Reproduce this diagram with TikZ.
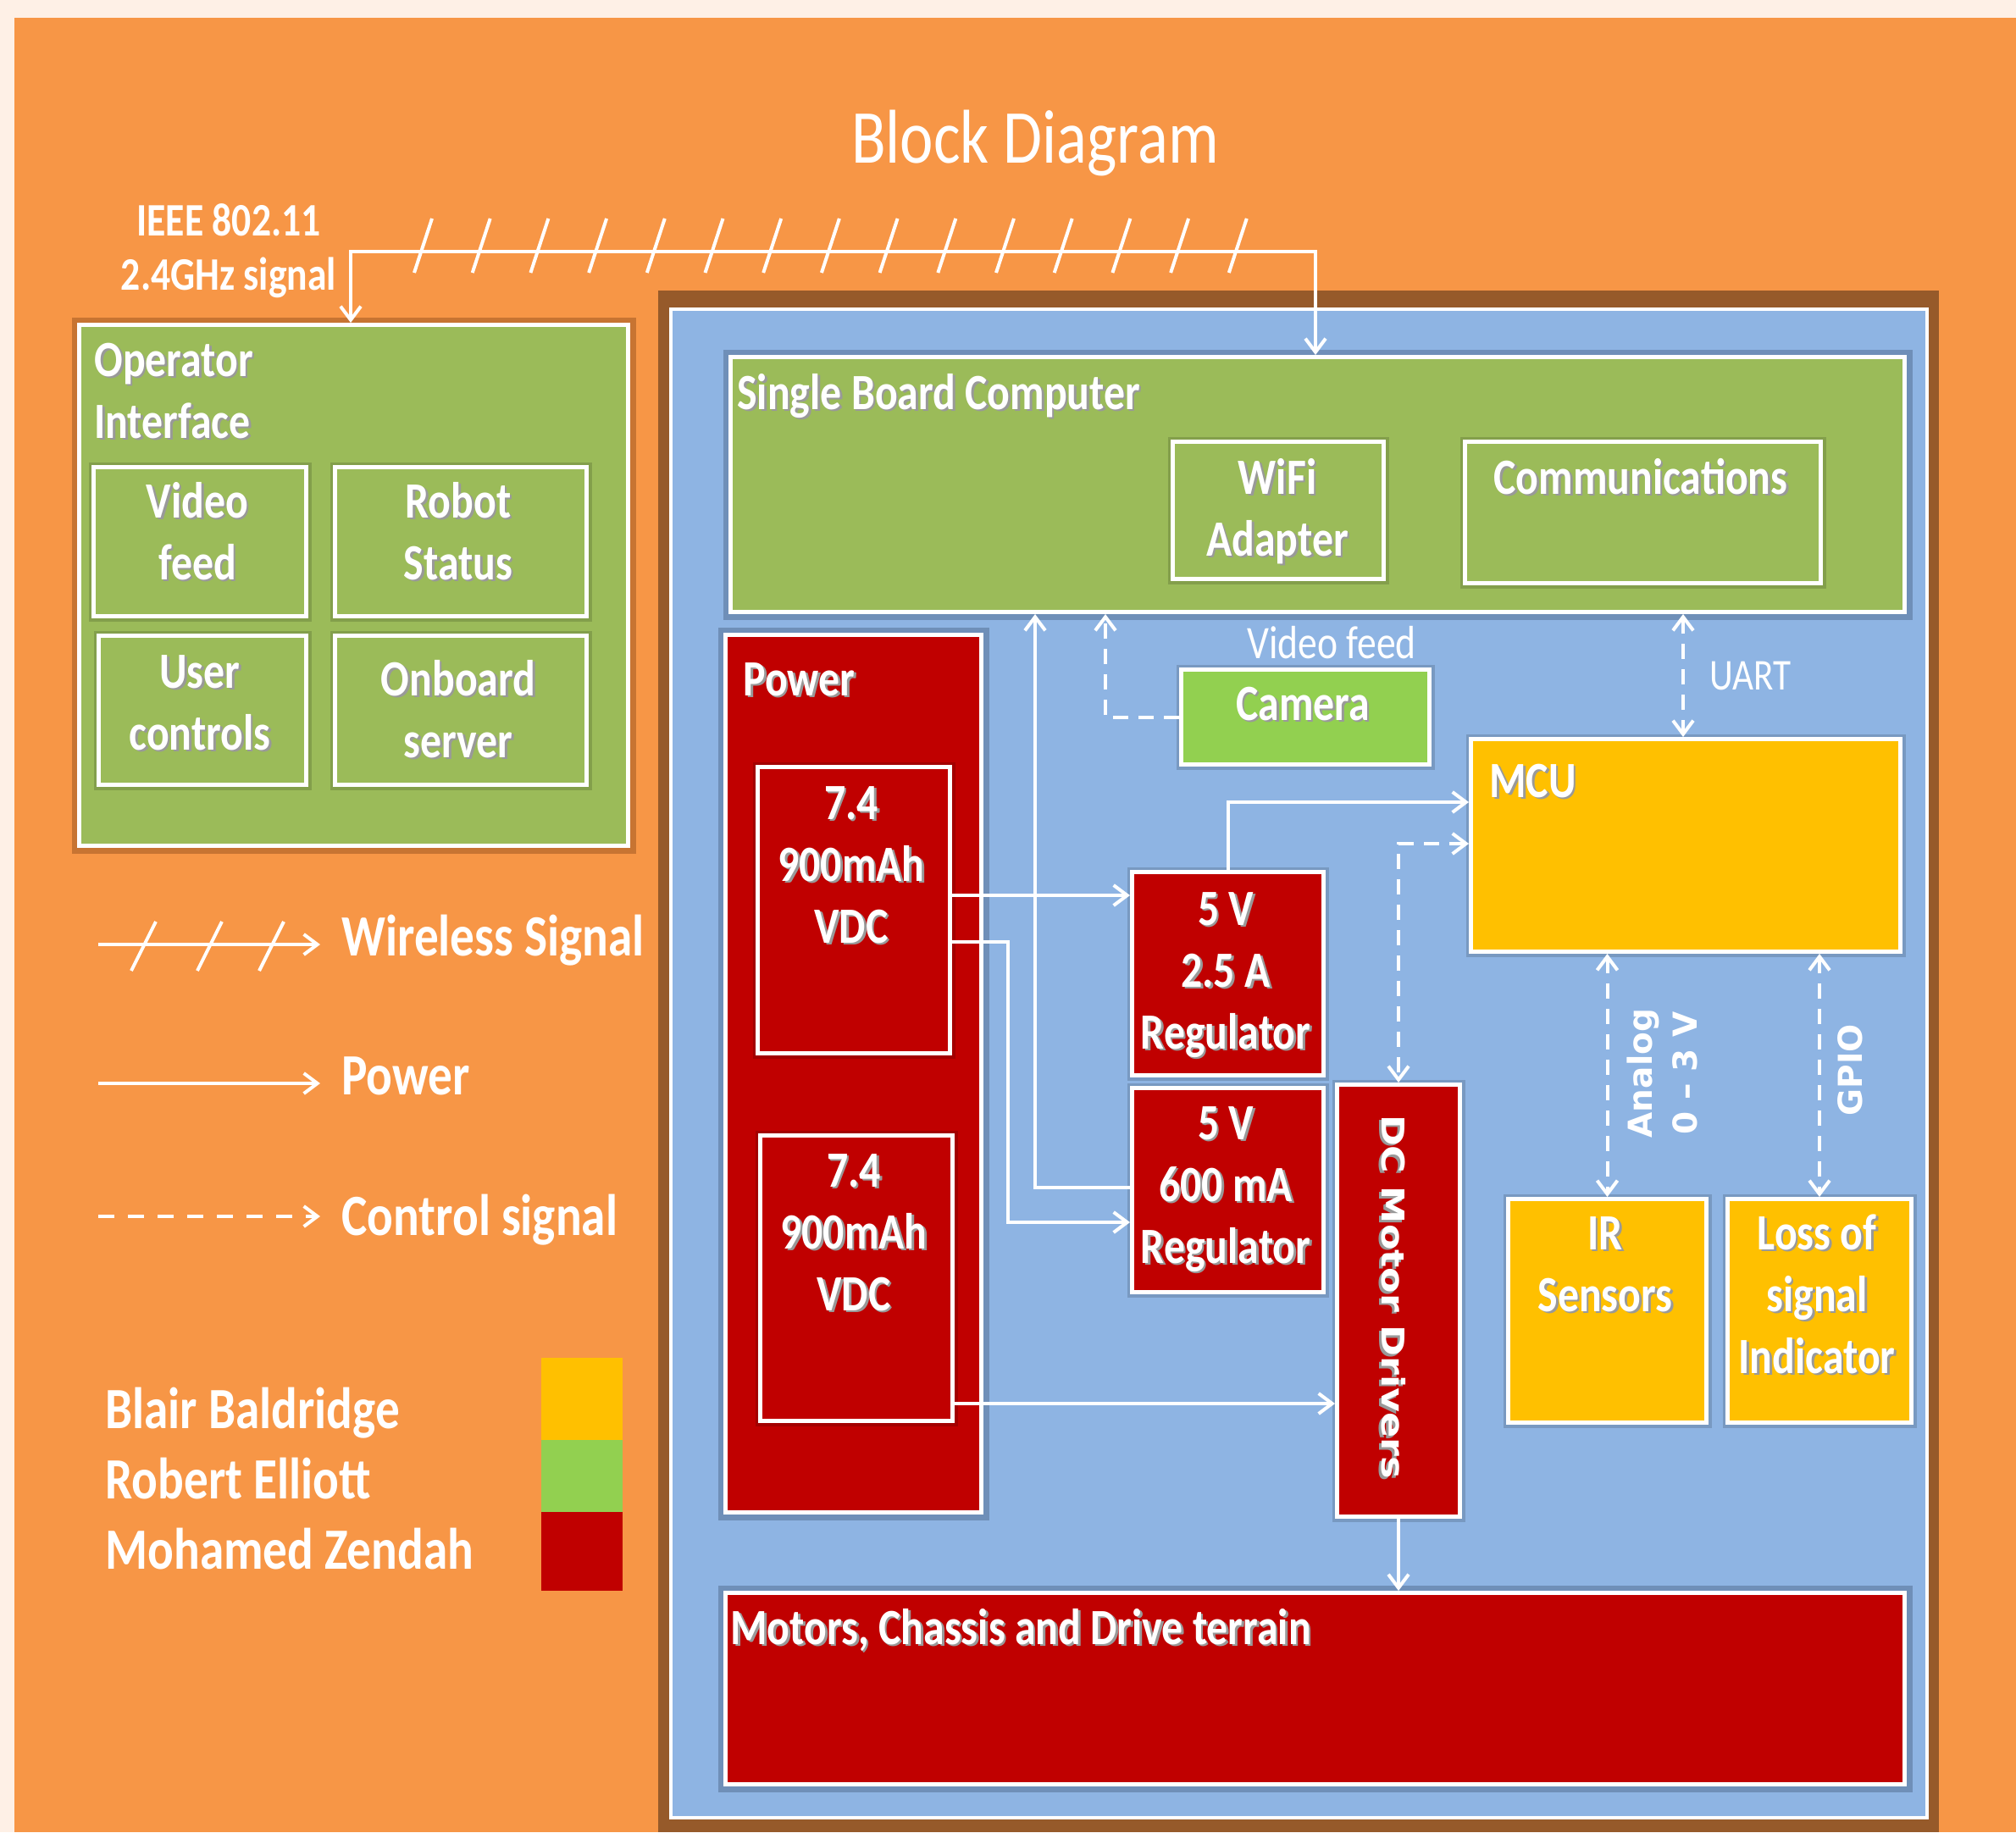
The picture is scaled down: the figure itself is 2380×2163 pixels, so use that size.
\documentclass[tikz,border=0pt]{standalone}
\usepackage{fontspec}
\usetikzlibrary{arrows.meta}
\setmainfont{Carlito}
\newfontfamily\calib{Carlito}[FakeStretch=0.83]
\newfontfamily\dvrot{DejaVu Sans}[FakeStretch=1.2]
\newfontfamily\dvs{DejaVu Sans}
\definecolor{bgorange}{HTML}{F79646}
\definecolor{cream}{HTML}{FEF0E6}
\definecolor{framebrown}{RGB}{150,90,42}
\definecolor{panelblue}{HTML}{8EB4E3}
\definecolor{olive}{HTML}{9BBB59}
\definecolor{camgreen}{HTML}{92D050}
\definecolor{dred}{HTML}{C00000}
\definecolor{amber}{HTML}{FFC000}
\definecolor{slate}{RGB}{55,75,105}
\definecolor{dbrown}{RGB}{110,55,15}
\newcommand\sh[1]{\makebox[0pt][l]{\raisebox{-1.3pt}{\hspace{1.3pt}\textcolor{black!40}{#1}}}#1}
\tikzset{
  box/.style={draw=white, line width=2.5pt, inner sep=0pt, anchor=north west},
  glow/.style={preaction={draw=#1, line width=9pt, draw opacity=.35}},
  softglow/.style={preaction={draw=black, line width=6pt, draw opacity=.15}},
  lbl/.style={text=white, inner sep=0pt, font=\calib\bfseries\fontsize{30}{36.5}\selectfont},
  pw/.style={draw=white, line width=2pt, -{Straight Barb[length=8pt,width=12pt]}},
  ctl/.style={pw, dash pattern=on 9pt off 6pt},
  both/.style={{Straight Barb[length=8pt,width=12pt]}-{Straight Barb[length=8pt,width=12pt]}},
  slash/.style={draw=white, line width=2pt},
  leg/.style={text=white, inner sep=0pt, font=\calib\bfseries\fontsize{34.5}{41.5}\selectfont},
  plain/.style={text=white, inner sep=0pt},
}
\begin{document}
\begin{tikzpicture}[x=0.5pt,y=-0.5pt]
\useasboundingbox (0,0) rectangle (2380,2163);
\fill[cream] (0,0) rectangle (2380,2163);
\fill[bgorange] (17,21) rectangle (2380,2163);
% robot frame
\fill[framebrown] (777,343) rectangle (2289,2163);
\filldraw[fill=panelblue, draw=white, line width=2pt] (792,365) rectangle (2275,2146);

% title and wireless label
\node[plain, anchor=base, font=\calib\fontsize{45}{54}\selectfont] (title) at (1222,192) {Block Diagram};
\node[plain, anchor=base, align=center, font=\calib\bfseries\fontsize{27.5}{32}\selectfont] (ieee) at (270,342) {IEEE 802.11\\2.4GHz signal};

% operator interface
\node[box, fill=olive, glow=dbrown, minimum width=324pt, minimum height=307.5pt] (opint) at (91,381) {};
\node[box, fill=olive, softglow, minimum width=125.5pt, minimum height=88pt] (video) at (108,549) {};
\node[box, fill=olive, softglow, minimum width=148.5pt, minimum height=88pt] (robot) at (393,549) {};
\node[box, fill=olive, softglow, minimum width=122.5pt, minimum height=88pt] (user) at (114,748) {};
\node[box, fill=olive, softglow, minimum width=148.5pt, minimum height=88pt] (onb) at (393,748) {};
\node[lbl, anchor=base west, align=left] (t-opint) at (111,517) {\sh{Operator}\\\sh{Interface}};
\node[lbl, anchor=base, align=center] (t-video) at (233,684) {\sh{Video}\\\sh{feed}};
\node[lbl, anchor=base, align=center] (t-robot) at (541,684) {\sh{Robot}\\\sh{Status}};
\node[lbl, anchor=base, align=center] (t-user) at (236,885) {\sh{User}\\\sh{controls}};
\node[lbl, anchor=base, align=center] (t-onb) at (541,894) {\sh{Onboard}\\\sh{server}};

% single board computer
\node[box, fill=olive, glow=slate, minimum width=693pt, minimum height=150.5pt] (sbc) at (860,419) {};
\node[box, fill=olive, softglow, minimum width=124.5pt, minimum height=81pt] (wifi) at (1382,519) {};
\node[box, fill=olive, softglow, minimum width=210pt, minimum height=83.5pt] (comm) at (1727,519) {};
\node[lbl, anchor=base west] (t-sbc) at (870,483) {\sh{Single Board Computer}};
\node[lbl, anchor=base, align=center] (t-wifi) at (1508,656) {\sh{WiFi}\\\sh{Adapter}};
\node[lbl, anchor=base] (t-comm) at (1937,583) {\sh{Communications}};

% power
\node[box, fill=dred, glow=slate, minimum width=151pt, minimum height=518pt] (power) at (854,747) {};
\node[box, fill=dred, softglow, minimum width=113.5pt, minimum height=169pt] (bat1) at (892,903) {};
\node[box, fill=dred, softglow, minimum width=113.5pt, minimum height=168.5pt] (bat2) at (895,1338) {};
\node[lbl, anchor=base west] (t-power) at (877,821) {\sh{Power}};
\node[lbl, anchor=base, align=center] (t-bat1) at (1005,1113) {\sh{7.4}\\\sh{900mAh}\\\sh{VDC}};
\node[lbl, anchor=base, align=center] (t-bat2) at (1008,1547) {\sh{7.4}\\\sh{900mAh}\\\sh{VDC}};

% regulators
\node[box, fill=dred, softglow, minimum width=113pt, minimum height=120pt] (reg1) at (1334,1027) {};
\node[box, fill=dred, softglow, minimum width=113pt, minimum height=120.5pt] (reg2) at (1334,1282) {};
\node[lbl, anchor=base, align=center] (t-reg1) at (1447,1238) {\sh{5 V}\\\sh{2.5 A}\\\sh{Regulator}};
\node[lbl, anchor=base, align=center] (t-reg2) at (1447,1491) {\sh{5 V}\\\sh{600 mA}\\\sh{Regulator}};

% motor drivers
\node[box, fill=dred, softglow, minimum width=72.5pt, minimum height=255pt] (dc) at (1576,1278) {};
\node[plain, rotate=-90, font=\dvrot\bfseries\fontsize{18.5}{22}\selectfont] (t-dc) at (1644,1531) {\sh{DC Motor Drivers}};

% camera
\node[box, fill=camgreen, softglow, minimum width=146.5pt, minimum height=56pt] (cam) at (1392,788) {};
\node[lbl, anchor=base] (t-cam) at (1538,850) {\sh{Camera}};
\node[plain, anchor=base, font=\calib\fontsize{27.5}{33}\selectfont] (t-vf) at (1572,777) {Video feed};

% MCU and peripherals
\node[box, fill=amber, softglow, minimum width=253.5pt, minimum height=125.5pt] (mcu) at (1734,870) {};
\node[box, fill=amber, softglow, minimum width=117pt, minimum height=132pt] (ir) at (1778,1413) {};
\node[box, fill=amber, softglow, minimum width=108.5pt, minimum height=132pt] (loss) at (2037,1413) {};
\node[lbl, anchor=base west] (t-mcu) at (1758,941) {\sh{MCU}};
\node[lbl, anchor=base, align=center] (t-ir) at (1895,1548) {\sh{IR}\\\sh{Sensors}};
\node[lbl, anchor=base, align=center] (t-loss) at (2145,1621) {\sh{Loss of}\\\sh{signal}\\\sh{Indicator}};
\node[plain, anchor=base west, font=\calib\fontsize{26}{31}\selectfont] (t-uart) at (2018,814) {UART};
\node[plain, rotate=90, align=center, font=\dvs\bfseries\fontsize{19.5}{26.5}\selectfont] (t-an) at (1962,1267) {Analog\\0 – 3 V};
\node[plain, rotate=90, font=\dvs\bfseries\fontsize{19.5}{24}\selectfont] (t-gpio) at (2184,1263) {GPIO};

% motors
\node[box, fill=dred, glow=slate, minimum width=696pt, minimum height=113pt] (mot) at (854,1878) {};
\node[lbl, anchor=base west] (t-mot) at (862,1941) {\sh{Motors, Chassis and Drive terrain}};

% wireless link
\coordinate (wl) at (414,297);
\coordinate (wr) at (1553,297);
\draw[pw, both] (opint.north -| wl) -- (wl) -- (wr) -- (sbc.north -| wr);
\foreach \i in {0,...,14} \draw[slash] ({489+68.7*\i},322) -- ({510+68.7*\i},258);

% power connectors
\draw[pw] (bat1.east |- 0,1057) -- (reg1.west |- 0,1057);
\draw[pw] (bat1.east |- 0,1112) -| (1190,1443) -- (reg2.west |- 0,1443);
\draw[pw] (reg2.west |- 0,1402) -| (sbc.south -| 1222,0);
\draw[pw] (reg1.north) |- (mcu.west |- 0,947);
\draw[pw] (bat2.east |- 0,1657) -- (dc.west |- 0,1657);
\draw[pw] (dc.south) -- (mot.north -| dc.south);

% control signals
\draw[ctl] (cam.west) -| (sbc.south -| 1305,0);
\draw[ctl, both] (sbc.south -| 1987,0) -- (mcu.north -| 1987,0);
\draw[ctl, both] (mcu.west |- 0,996) -| (dc.north);
\draw[ctl, both] (mcu.south -| ir.north) -- (ir.north);
\draw[ctl, both] (mcu.south -| loss.north) -- (loss.north);

% legend
\coordinate (lw1) at (116,1115); \coordinate (lw2) at (378,1115);
\coordinate (lp1) at (116,1279); \coordinate (lp2) at (378,1279);
\coordinate (lc1) at (116,1436); \coordinate (lc2) at (378,1436);
\draw[pw] (lw1) -- (lw2);
\foreach \x in {155,233,306} \draw[slash] (\x,1146) -- (\x+29,1088);
\draw[pw] (lp1) -- (lp2);
\draw[pw, dash pattern=on 9.5pt off 8pt] (lc1) -- (lc2);
\node[leg, anchor=base west] (lg-w) at (403,1128) {Wireless Signal};
\node[leg, anchor=base west] (lg-p) at (403,1292) {Power};
\node[leg, anchor=base west] (lg-c) at (403,1458) {Control signal};
\node[leg, anchor=base west, align=left] (lg-n) at (124,1852) {Blair Baldridge\\Robert Elliott\\Mohamed Zendah};
\fill[amber] (639,1603) rectangle (735,1700);
\fill[camgreen] (639,1700) rectangle (735,1785);
\fill[dred] (639,1785) rectangle (735,1878);
\end{tikzpicture}
\end{document}
